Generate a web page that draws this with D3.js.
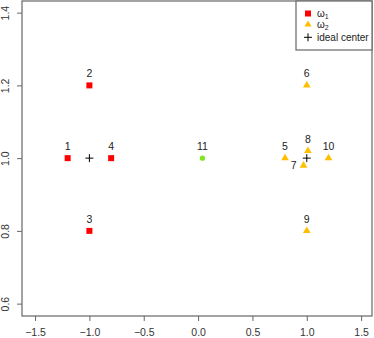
<!DOCTYPE html>
<html>
<head>
<meta charset="utf-8">
<script src="https://cdn.jsdelivr.net/npm/d3@7"></script>
<style>
  body { margin: 0; background: #fff; }
  svg text { font-family: "Liberation Sans", Arial, sans-serif; }
</style>
</head>
<body>
<svg id="chart" width="374" height="338"></svg>
<script>
// class omega1 points
const omega1 = [
    {id: "1", x: -1.2, y: 1.0},
    {id: "2", x: -1.0, y: 1.2},
    {id: "3", x: -1.0, y: 0.8},
    {id: "4", x: -0.8, y: 1.0}
];
// class omega2 points
const omega2 = [
    {id: "5", x: 0.8, y: 1.0},
    {id: "6", x: 1.0, y: 1.2},
    {id: "7", x: 0.97, y: 0.98, left: true},
    {id: "8", x: 1.01, y: 1.02},
    {id: "9", x: 1.0, y: 0.8},
    {id: "10", x: 1.2, y: 1.0}
];
const newPoint = [{id: "11", x: 0.04, y: 1.0}];
const centers = [{x: -1.0, y: 1.0}, {x: 1.0, y: 1.0}];

const xTicks = [-1.5, -1.0, -0.5, 0.0, 0.5, 1.0, 1.5];
const yTicks = [0.6, 0.8, 1.0, 1.2, 1.4];

const svg = d3.select("svg#chart");
const margin = {left: 22, top: 1, right: 2, bottom: 22};
const width = 374 - margin.left - margin.right,
      height = 338 - margin.top - margin.bottom;

const x = d3.scaleLinear().domain([-1.62, 1.60]).range([0, width]);
const y = d3.scaleLinear().domain([0.566, 1.432]).range([height, 0]);

const g = svg.append("g")
    .attr("transform", `translate(${margin.left},${margin.top})`);

// frame
g.append("rect")
    .attr("x", 0).attr("y", 0)
    .attr("width", width).attr("height", height)
    .attr("fill", "none")
    .attr("stroke", "#666")
    .attr("stroke-width", 1.2);

// x axis
const xAxis = g.append("g")
    .attr("transform", `translate(0,${height})`)
    .call(d3.axisBottom(x).tickValues(xTicks).tickFormat(d3.format(".1f")).tickSize(5).tickPadding(8));
xAxis.select(".domain").remove();
xAxis.selectAll("line").attr("stroke", "#666");
xAxis.selectAll("text").attr("font-size", 10.5).attr("fill", "#333")
    .text(d => d < 0 ? "\u2212" + d3.format(".1f")(-d) : d3.format(".1f")(d));

// y axis
const yAxis = g.append("g")
    .call(d3.axisLeft(y).tickValues(yTicks).tickFormat(d3.format(".1f")).tickSize(5));
yAxis.select(".domain").remove();
yAxis.selectAll("line").attr("stroke", "#666");
yAxis.selectAll("text")
    .attr("font-size", 10.5).attr("fill", "#333")
    .attr("x", null).attr("dy", null)
    .attr("text-anchor", "middle")
    .attr("transform", "translate(-13,0) rotate(-90)");

// omega1 squares
g.selectAll("rect.w1")
    .data(omega1)
    .join("rect")
        .attr("class", "w1")
        .attr("x", d => x(d.x) - 3)
        .attr("y", d => y(d.y) - 3)
        .attr("width", 6).attr("height", 6)
        .attr("fill", "#ff0000");

// omega2 triangles
const tri = d3.symbol().type(d3.symbolTriangle).size(26);
g.selectAll("path.w2")
    .data(omega2)
    .join("path")
        .attr("class", "w2")
        .attr("d", tri)
        .attr("transform", d => `translate(${x(d.x)},${y(d.y)})`)
        .attr("fill", "#ffbf00");

// new point
g.selectAll("circle.p11")
    .data(newPoint)
    .join("circle")
        .attr("cx", d => x(d.x))
        .attr("cy", d => y(d.y))
        .attr("r", 2.6)
        .attr("fill", "#7ee81f");

// ideal centers
g.selectAll("g.center")
    .data(centers)
    .join("g")
        .attr("transform", d => `translate(${x(d.x)},${y(d.y)})`)
        .each(function() {
            d3.select(this).append("line").attr("x1", -4).attr("x2", 4).attr("stroke", "#000");
            d3.select(this).append("line").attr("y1", -4).attr("y2", 4).attr("stroke", "#000");
        });

// labels
const allPts = omega1.concat(omega2, newPoint);
g.selectAll("text.lab")
    .data(allPts)
    .join("text")
        .attr("class", "lab")
        .attr("x", d => d.left ? x(d.x) - 7 : x(d.x))
        .attr("y", d => d.left ? y(d.y) + 4 : y(d.y) - 8)
        .attr("text-anchor", d => d.left ? "end" : "middle")
        .attr("font-size", 10.5)
        .attr("fill", "#222")
        .text(d => d.id);

// legend
const lg = svg.append("g").attr("transform", "translate(296,1)");
lg.append("rect")
    .attr("width", 76).attr("height", 49)
    .attr("fill", "#fff").attr("stroke", "#666").attr("stroke-width", 1.2);
lg.append("rect").attr("x", 9).attr("y", 9.5).attr("width", 6).attr("height", 6).attr("fill", "#ff0000");
lg.append("path").attr("d", d3.symbol().type(d3.symbolTriangle).size(22)).attr("transform", "translate(12,23.5)").attr("fill", "#ffbf00");
lg.append("line").attr("x1", 8).attr("x2", 16).attr("y1", 36.3).attr("y2", 36.3).attr("stroke", "#000");
lg.append("line").attr("x1", 12).attr("x2", 12).attr("y1", 32.3).attr("y2", 40.3).attr("stroke", "#000");
const legText = [["\u03c9", "1", 16], ["\u03c9", "2", 27]];
legText.forEach(([s, sub, yy]) => {
    const t = lg.append("text").attr("x", 21).attr("y", yy).attr("font-size", 10).attr("fill", "#222");
    t.append("tspan").text(s);
    t.append("tspan").attr("font-size", 7).attr("dy", 2).text(sub);
});
lg.append("text").attr("x", 21).attr("y", 40).attr("font-size", 10).attr("fill", "#222").text("ideal center");
</script>
</body>
</html>
